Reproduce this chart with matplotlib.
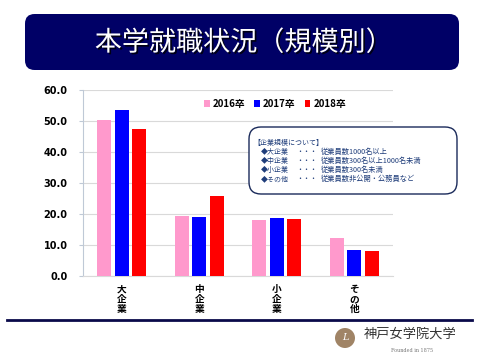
import matplotlib
matplotlib.use("Agg")
import matplotlib.pyplot as plt
import matplotlib.patheffects as pe
from matplotlib.patches import FancyBboxPatch, Circle
import numpy as np

plt.rcParams['font.family'] = ['Noto Sans CJK JP', 'DejaVu Sans']

title = "本学就職状況（規模別）"
categories = ["大\n企\n業", "中\n企\n業", "小\n企\n業", "そ\nの\n他"]
series_names = ["2016卒", "2017卒", "2018卒"]
values_2016 = [50.2, 19.3, 18.0, 12.1]
values_2017 = [53.5, 19.0, 18.7, 8.5]
values_2018 = [47.4, 25.8, 18.3, 8.2]
colors = ["#FF99CC", "#0000FF", "#FF0000"]
yticks = [0, 10, 20, 30, 40, 50, 60]
note_lines = [
    ("【企業規模について】", "", ""),
    ("◆大企業", "・・・", "従業員数1000名以上"),
    ("◆中企業", "・・・", "従業員数300名以上1000名未満"),
    ("◆小企業", "・・・", "従業員数300名未満"),
    ("◆その他", "・・・", "従業員数非公開・公務員など"),
]

W, H = 480, 360
fig = plt.figure(figsize=(4.8, 3.6), dpi=100)
fig.patch.set_facecolor("white")

def fx(px):
    return px / W

def fy(py):
    return 1 - py / H

# Title banner
banner = FancyBboxPatch((fx(25), fy(70)), fx(459) - fx(25), fy(14) - fy(70),
                        boxstyle="round,pad=0,rounding_size=0.02",
                        transform=fig.transFigure, facecolor="#000066",
                        edgecolor="none", mutation_aspect=W / H)
fig.patches.append(banner)
fig.text(fx(244), fy(43), title, color="white", fontsize=19.5, ha="center",
         va="center", fontweight="normal",
         path_effects=[pe.withSimplePatchShadow(offset=(1.2, -1.2), shadow_rgbFace="#000000", alpha=0.8)])

# Bottom line
fig.add_artist(plt.Line2D([fx(7), fx(472)], [fy(320), fy(320)], color="#0a0a4a",
                          lw=2, transform=fig.transFigure))

# Chart
ax = fig.add_axes([fx(83), fy(276), fx(393) - fx(83), fy(90) - fy(276)])
x = np.arange(len(categories))
bw = 0.18
step = 0.226
for i, (vals, c, name) in enumerate(zip([values_2016, values_2017, values_2018], colors, series_names)):
    ax.bar(x + (i - 1) * step, vals, width=bw, color=c, label=name, zorder=3)

ax.set_xlim(-0.5, len(categories) - 0.5)
ax.set_ylim(0, 60)
ax.set_yticks(yticks)
ax.set_yticklabels([f"{v:.1f}" for v in yticks], fontsize=7, fontweight="bold",
                   family=["DejaVu Sans"])
ax.set_xticks(x)
ax.set_xticklabels(categories, fontsize=7, fontweight="bold", linespacing=1.0)
ax.tick_params(axis="x", length=0, pad=6)
ax.tick_params(axis="y", length=3, color="#BFC9D6", pad=8)
ax.grid(axis="y", color="#D9D9D9", lw=0.8, zorder=0)
for s in ["top", "right"]:
    ax.spines[s].set_visible(False)
ax.spines["left"].set_color("#BFC9D6")
ax.spines["bottom"].set_color("#D9D9D9")

leg = ax.legend(loc="center", bbox_to_anchor=(0.62, 0.925), ncol=3, frameon=False,
                handlelength=0.6, handleheight=0.6, handletextpad=0.3, columnspacing=0.9,
                prop={"size": 7, "weight": "bold"})

# Note box
box = FancyBboxPatch((fx(249), fy(194)), fx(457) - fx(249), fy(127) - fy(194),
                     boxstyle="round,pad=0,rounding_size=0.025",
                     transform=fig.transFigure, facecolor="white",
                     edgecolor="#1a2a5a", lw=1.0, mutation_aspect=W / H)
fig.patches.append(box)
note_color = "#1F3D7A"
ys = [143, 152, 161, 170, 179]
for (a, b, c), yy in zip(note_lines, ys):
    if b == "":
        fig.text(fx(253), fy(yy), a, fontsize=5.0, color=note_color, va="center")
    else:
        fig.text(fx(261), fy(yy), a, fontsize=5.0, color=note_color, va="center")
        fig.text(fx(296), fy(yy), b, fontsize=5.0, color=note_color, va="center")
        fig.text(fx(321), fy(yy), c, fontsize=5.2, color=note_color, va="center")

# Logo
fig.patches.append(Circle((345 / 100, (H - 338) / 100), 0.1, transform=fig.dpi_scale_trans,
                          facecolor="#A08466", edgecolor="none"))
fig.text(fx(345), fy(338), "L", fontsize=7, color="white", ha="center", va="center",
         family=["DejaVu Serif"], style="italic")
fig.text(fx(364), fy(334), "神戸女学院大学", fontsize=9.5, color="#333333", va="center")
fig.text(fx(412), fy(351), "Founded in 1875", fontsize=3.5, color="#777777",
         va="center", ha="center", family=["DejaVu Serif"])

fig.savefig("out.png", dpi=100)
